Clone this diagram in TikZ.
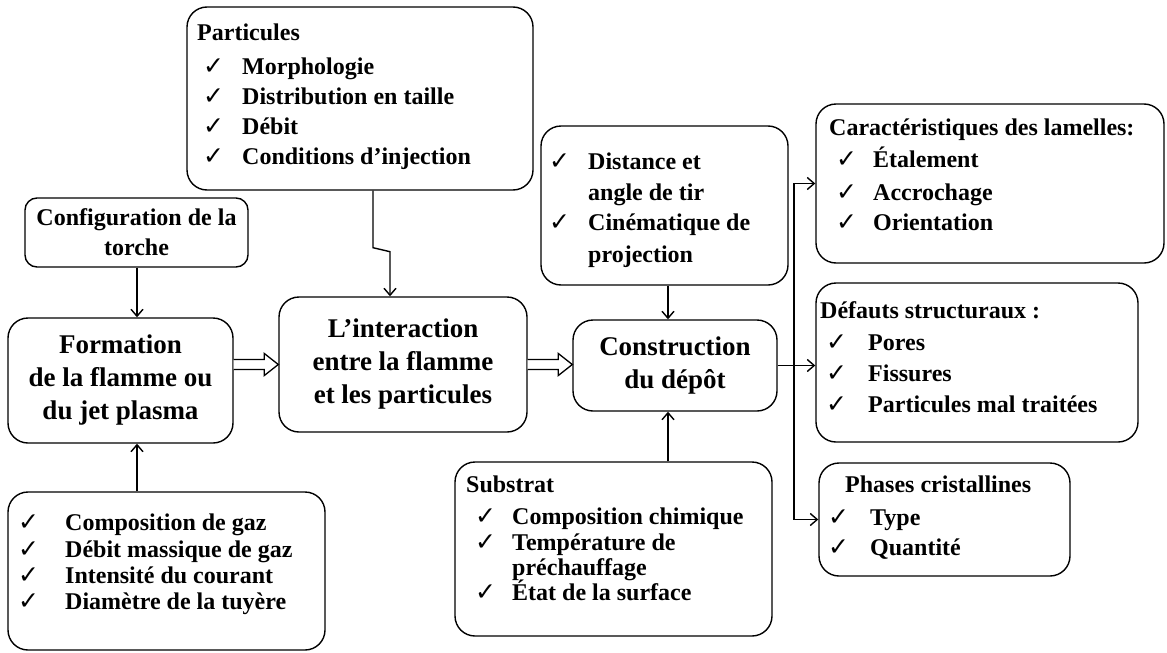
\documentclass[tikz,border=0pt]{standalone}
\usepackage{fontspec}
\setmainfont{Liberation Serif}
\newfontfamily\chkfont{DejaVu Sans}
\usetikzlibrary{arrows.meta,calc}

\begin{document}
\begin{tikzpicture}[x=1pt,y=-1pt,
    box/.style={draw,line width=1.4pt,rounded corners=20pt,inner sep=0pt},
    arr/.style={line width=1.4pt,-{Straight Barb[length=7pt,width=12pt]}},
    hollow/.style={line width=1.3pt,fill=white,line join=miter},
    big/.style={align=center,font=\fontsize{27}{33}\selectfont\bfseries},
    lbl/.style={anchor=base west,inner sep=0pt,font=\fontsize{24}{28}\selectfont\bfseries},
    tick/.style={anchor=base west,inner sep=0pt,font=\fontsize{25}{25}\selectfont\chkfont}]

\useasboundingbox (0,0) rectangle (1167,653);

% boxes
\node[box,minimum width=346,minimum height=183] (part) at (360,98.5) {};
\node[box,big,minimum width=248,minimum height=135] (inter) at (403,364.5) {L’interaction\\entre la flamme\\et les particules};
\node[box,rounded corners=12pt,minimum width=223,minimum height=69,align=center,
      font=\fontsize{24}{30}\selectfont\bfseries] (config) at (136.5,232.5) {Configuration de la\\torche};
\node[box,big,minimum width=225,minimum height=125] (form) at (120.5,380.5) {Formation\\de la flamme ou\\du jet plasma};
\node[box,minimum width=317,minimum height=158] (gaz) at (166.5,571) {};
\node[box,minimum width=247,minimum height=159] (dist) at (664.5,205.5) {};
\node[box,big,minimum width=204,minimum height=91] (constr) at (675,365.5) {Construction\\du dépôt};
\node[box,minimum width=317,minimum height=174] (subs) at (613.5,549) {};
\node[box,minimum width=348,minimum height=159] (carac) at (990,183.5) {};
\node[box,minimum width=322,minimum height=159] (defauts) at (977,362.5) {};
\node[box,minimum width=251,minimum height=113] (phases) at (944.5,519.5) {};

% texts of the lists
\node[lbl] (partT) at (197,40) {Particules};
\foreach \t/\y [count=\i] in {Morphologie/74,Distribution en taille/104,Débit/134,Conditions d’injection/164}{
  \node[tick] (partC\i) at (203,\y) {✓};
  \node[lbl] (partL\i) at (242,\y) {\t};
}
\foreach \t/\y [count=\i] in {Composition de gaz/530,Débit massique de gaz/557,Intensité du courant/583,Diamètre de la tuyère/609}{
  \node[tick] (gazC\i) at (18,\y) {✓};
  \node[lbl] (gazL\i) at (65,\y) {\t};
}
\node[lbl] (subsT) at (466,492) {Substrat};
\foreach \t/\y [count=\i] in {Composition chimique/524,Température de/550,État de la surface/600}{
  \node[tick] (subsC\i) at (475,\y) {✓};
  \node[lbl] (subsL\i) at (512,\y) {\t};
}
\node[lbl] (subsL4) at (512,575) {préchauffage};
\foreach \t/\y [count=\i] in {Distance et/169,Cinématique de/230}{
  \node[tick] (distC\i) at (549,\y) {✓};
  \node[lbl] (distL\i) at (588,\y) {\t};
}
\node[lbl] (distL3) at (588,200) {angle de tir};
\node[lbl] (distL4) at (588,262) {projection};
\node[lbl] (caracT) at (829,135) {Caractéristiques des lamelles:};
\foreach \t/\y [count=\i] in {Étalement/167,Accrochage/200,Orientation/230}{
  \node[tick] (caracC\i) at (836,\y) {✓};
  \node[lbl] (caracL\i) at (873,\y) {\t};
}
\node[lbl] (defautsT) at (820,318) {Défauts structuraux :};
\foreach \t/\y [count=\i] in {Pores/350,Fissures/381,Particules mal traitées/412}{
  \node[tick] (defautsC\i) at (826,\y) {✓};
  \node[lbl] (defautsL\i) at (868,\y) {\t};
}
\node[lbl] (phasesT) at (845,492) {Phases cristallines};
\foreach \t/\y [count=\i] in {Type/525,Quantité/555}{
  \node[tick] (phasesC\i) at (828,\y) {✓};
  \node[lbl] (phasesL\i) at (870,\y) {\t};
}

% connectors
\coordinate (ax) at (668,0);
\coordinate (bx) at (794,0);
\coordinate (cx) at (137,0);
\draw[arr] (config.south -| cx) -- (form.north -| cx);
\draw[arr] (gaz.north -| cx) -- (form.south -| cx);
\draw[arr] ([xshift=13pt]part.south) -- ++(0,57) -- ++(17,4) -- ([xshift=-13pt]inter.north);
\draw[arr] (dist.south -| ax) -- (constr.north -| ax);
\draw[arr] (subs.north -| ax) -- (constr.south -| ax);
\draw[arr] (constr.east) -- (constr.east -| defauts.west);
\draw[arr] (constr.east -| bx) |- (carac.west);
\draw[arr] (constr.east -| bx) |- (phases.west);
\foreach \a/\b in {form/inter,inter/constr}{
  \path (\a.east |- inter.west) coordinate (s) (\b.west |- inter.west) coordinate (e);
  \draw[hollow] ($(s)+(0,-5)$) -- ($(e)+(-14,-5)$) -- ($(e)+(-14,-11)$) -- (e)
    -- ($(e)+(-14,11)$) -- ($(e)+(-14,5)$) -- ($(s)+(0,5)$);
}
\end{tikzpicture}
\end{document}
